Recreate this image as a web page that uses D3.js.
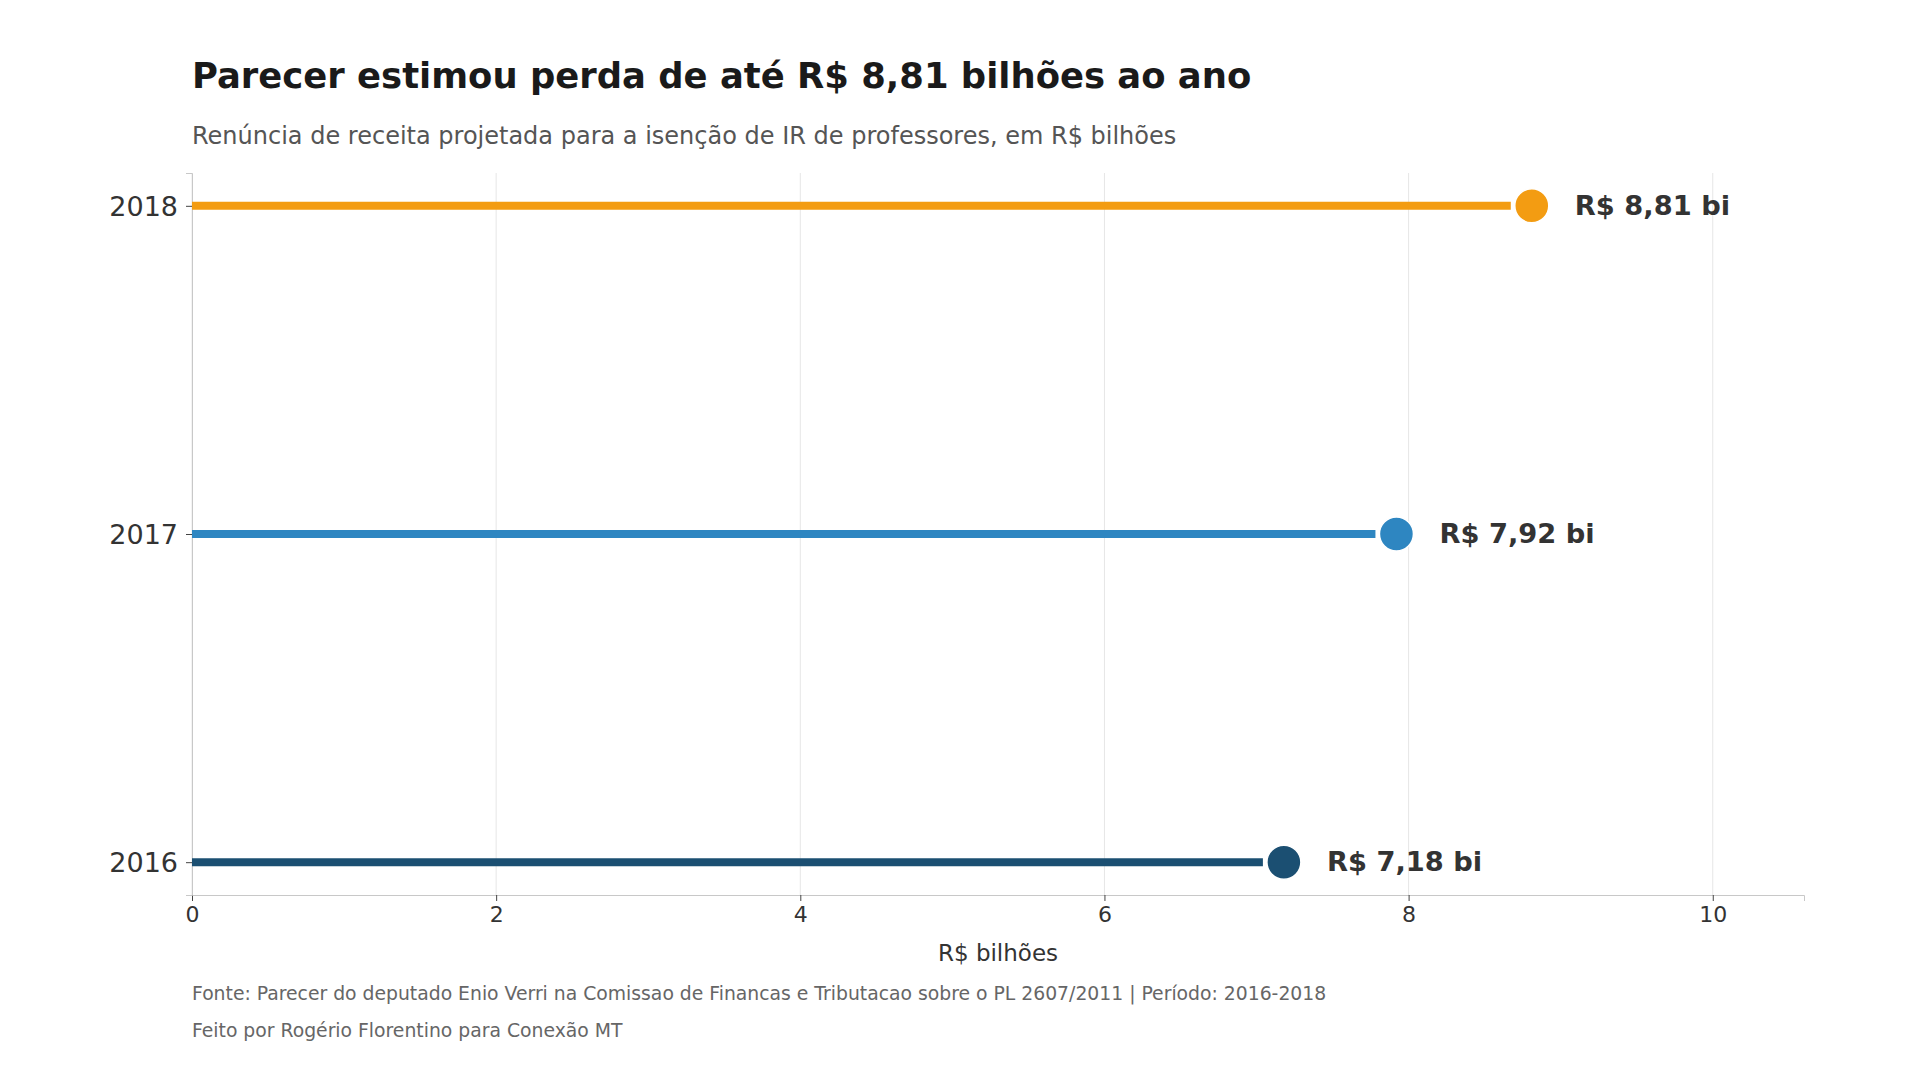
<!DOCTYPE html>
<html>
<head>
<meta charset="utf-8">
<script src="https://cdn.jsdelivr.net/npm/d3@7"></script>
<style>
  html, body { margin: 0; padding: 0; background: #fff; }
  svg { display: block; font-family: "DejaVu Sans", sans-serif; }
</style>
</head>
<body>
<svg id="chart" width="1920" height="1080"></svg>
<script>
const anos    = ["2016", "2017", "2018"];
const valores = [7.18, 7.92, 8.81];
const cores   = ["#1B4F72", "#2E86C1", "#F39C12"];
const rotulos = ["R$ 7,18 bi", "R$ 7,92 bi", "R$ 8,81 bi"];
const xTicks  = [0, 2, 4, 6, 8, 10];
const xMax    = 10.6;

const svg    = d3.select("#chart"),
      margin = {top: 173, right: 116, bottom: 185, left: 192},
      W      = +svg.attr("width"),
      H      = +svg.attr("height"),
      width  = W - margin.left - margin.right,
      height = H - margin.top - margin.bottom;

const x = d3.scaleLinear().domain([0, xMax]).range([0, width]);
const y = d3.scalePoint().domain(anos).range([height, 0]).padding(0.1);

const g = svg.append("g").attr("transform", `translate(${margin.left},${margin.top})`);

// grade vertical
g.append("g").selectAll("line")
  .data(xTicks)
  .enter().append("line")
    .attr("x1", d => x(d)).attr("x2", d => x(d))
    .attr("y1", 0).attr("y2", height)
    .attr("stroke", "#e6e6e6").attr("stroke-width", 1);

// eixo x
const ax = g.append("g")
  .attr("transform", `translate(0,${height})`)
  .call(d3.axisBottom(x).tickValues(xTicks).tickSize(6).tickPadding(5).tickFormat(d3.format("d")));
ax.attr("font-family", "DejaVu Sans");
ax.select(".domain").attr("stroke", "#c8c8c8");
ax.selectAll(".tick line").attr("stroke", "#444");
ax.selectAll("text").attr("fill", "#333").style("font-size", "22px");

// eixo y
const ay = g.append("g")
  .call(d3.axisLeft(y).tickSize(6).tickPadding(8));
ay.attr("font-family", "DejaVu Sans");
ay.select(".domain").attr("stroke", "#c8c8c8");
ay.selectAll(".tick line").attr("stroke", "#444");
ay.selectAll("text").attr("fill", "#333").style("font-size", "27px").attr("dy", "0.36em");

const dados = anos.map((a, i) => ({ano: a, valor: valores[i], cor: cores[i], rotulo: rotulos[i]}));
const r = 17;

// hastes
g.selectAll(".haste")
  .data(dados)
  .enter().append("line")
    .attr("class", "haste")
    .attr("x1", x(0))
    .attr("x2", d => x(d.valor) - r - 4)
    .attr("y1", d => y(d.ano)).attr("y2", d => y(d.ano))
    .attr("stroke", d => d.cor)
    .attr("stroke-width", 8);

// pontos
g.selectAll(".ponto")
  .data(dados)
  .enter().append("circle")
    .attr("class", "ponto")
    .attr("cx", d => x(d.valor))
    .attr("cy", d => y(d.ano))
    .attr("r", r)
    .attr("fill", d => d.cor)
    .attr("stroke", "#fff").attr("stroke-width", 1.5);

// rótulos de valor
g.selectAll(".rotulo")
  .data(dados)
  .enter().append("text")
    .attr("class", "rotulo")
    .attr("x", d => x(d.valor) + 43)
    .attr("y", d => y(d.ano))
    .attr("dy", "0.33em")
    .style("font-size", "27.3px")
    .style("font-weight", "bold")
    .attr("fill", "#333")
    .text(d => d.rotulo);

// título do eixo x
svg.append("text")
  .attr("x", margin.left + width / 2)
  .attr("y", 961)
  .attr("text-anchor", "middle")
  .style("font-size", "23px")
  .attr("fill", "#333")
  .text("R$ bilhões");

// título e subtítulo
svg.append("text")
  .attr("x", 192).attr("y", 88)
  .style("font-size", "35.4px").style("font-weight", "bold")
  .attr("fill", "#1a1a1a")
  .text("Parecer estimou perda de até R$ 8,81 bilhões ao ano");
svg.append("text")
  .attr("x", 192).attr("y", 144)
  .style("font-size", "24px")
  .attr("fill", "#555")
  .text("Renúncia de receita projetada para a isenção de IR de professores, em R$ bilhões");

// rodapé
svg.append("text")
  .attr("x", 192).attr("y", 1000)
  .style("font-size", "18.8px")
  .attr("fill", "#666")
  .text("Fonte: Parecer do deputado Enio Verri na Comissao de Financas e Tributacao sobre o PL 2607/2011 | Período: 2016-2018");
svg.append("text")
  .attr("x", 192).attr("y", 1037)
  .style("font-size", "18.8px")
  .attr("fill", "#666")
  .text("Feito por Rogério Florentino para Conexão MT");
</script>
</body>
</html>
